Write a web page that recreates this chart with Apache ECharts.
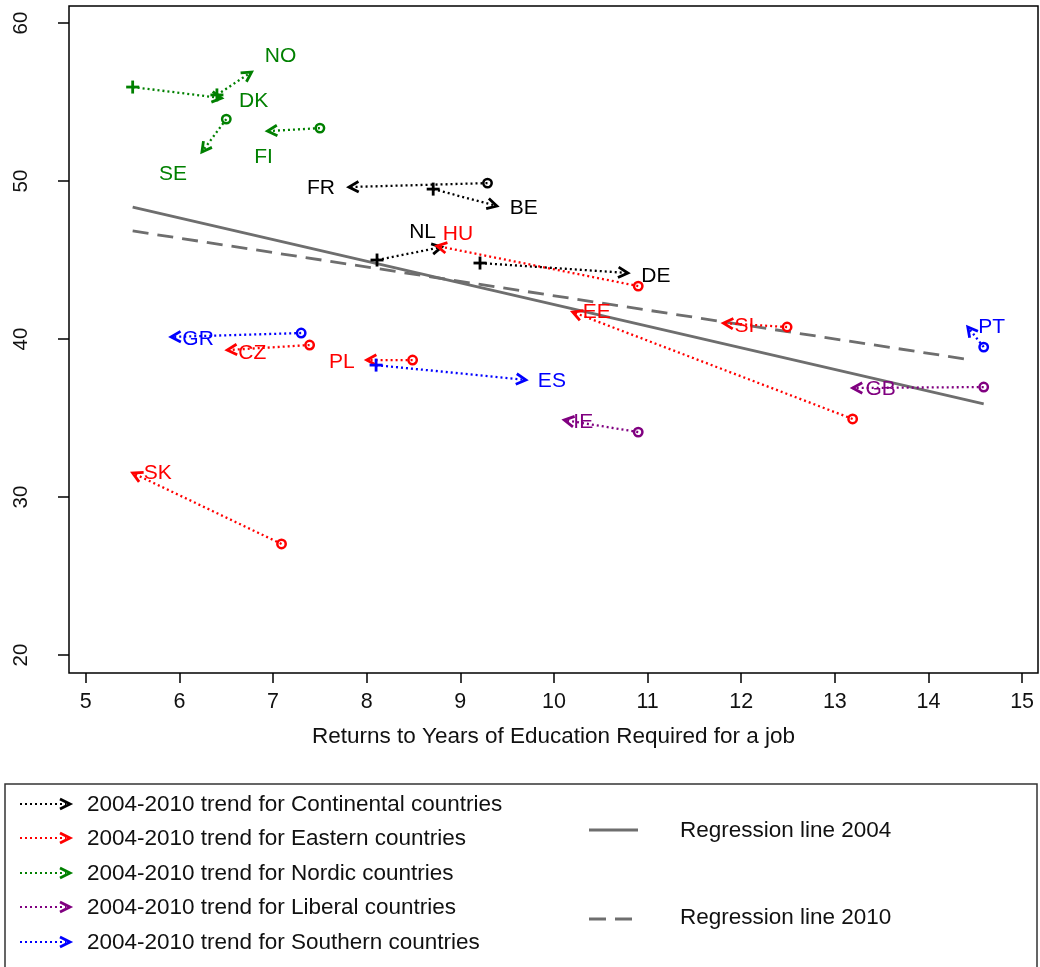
<!DOCTYPE html>
<html>
<head>
<meta charset="utf-8">
<script src="https://cdn.jsdelivr.net/npm/echarts@6/dist/echarts.min.js"></script>
<style>
  html, body { margin: 0; padding: 0; background: #fff; }
  #main { width: 1040px; height: 967px; }
</style>
</head>
<body>
<div id="main"></div>
<script>
// country data: 2004 point -> 2010 point
var countries = ['NO', 'DK', 'SE', 'FI', 'FR', 'BE', 'NL', 'DE', 'HU', 'EE', 'SI', 'CZ', 'PL', 'SK', 'GB', 'IE', 'PT', 'GR', 'ES'];
var groups = ['Nordic', 'Nordic', 'Nordic', 'Nordic', 'Continental', 'Continental', 'Continental', 'Continental',
	'Eastern', 'Eastern', 'Eastern', 'Eastern', 'Eastern', 'Eastern', 'Liberal', 'Liberal', 'Southern', 'Southern', 'Southern'];
var x2004 = [6.40, 5.50, 6.50, 7.50, 9.29, 8.71, 8.11, 9.21, 10.90, 13.19, 12.49, 7.39, 8.49, 7.09, 14.59, 10.90, 14.59, 7.30, 8.10];
var y2004 = [55.45, 55.95, 53.92, 53.35, 49.87, 49.49, 45.00, 44.81, 43.35, 34.94, 40.76, 39.62, 38.67, 27.03, 36.96, 34.11, 39.49, 40.38, 38.35];
var x2010 = [6.77, 6.45, 6.24, 6.94, 7.81, 9.39, 8.80, 10.79, 8.75, 10.20, 11.81, 6.51, 8.00, 5.50, 13.19, 10.11, 14.42, 5.91, 9.70];
var y2010 = [56.90, 55.25, 51.84, 53.16, 49.62, 48.42, 45.82, 44.18, 45.89, 41.71, 41.01, 39.30, 38.67, 31.52, 36.90, 34.87, 40.76, 40.13, 37.41];

// regression lines (end points)
var reg2004X = [5.5, 14.59];
var reg2004Y = [48.35, 35.89];
var reg2010X = [5.5, 14.4];
var reg2010Y = [46.84, 38.73];

var xTicks = [5, 6, 7, 8, 9, 10, 11, 12, 13, 14, 15];
var yTicks = [20, 30, 40, 50, 60];
var groupNames = ['Continental', 'Eastern', 'Nordic', 'Liberal', 'Southern'];

// styles
var FONT = "'Liberation Sans', Arial, sans-serif";
var groupColor = {
	Continental: '#000000',
	Eastern: '#ff0000',
	Nordic: '#008000',
	Liberal: '#800080',
	Southern: '#0000ff'
};
var plusMarked = ['NO', 'DK', 'BE', 'NL', 'DE', 'ES'];
// label centre offset from the arrow tip, pixels
var labelOff = {
	NO: [29, -16], DK: [32, 3], SE: [-29, 22], FI: [-4, 26], FR: [-28, 1], BE: [27, 2],
	NL: [-19, -15], HU: [21, -12], DE: [28, 3], EE: [24, 0], SI: [21, 3], CZ: [25, 3],
	PL: [-25, 2], SK: [25, 0], GB: [28, 1], IE: [19, 2], PT: [24, 0], GR: [27, 2], ES: [26, 1]
};

function arrowItem(params, api) {
	var i = api.value(4);
	var name = countries[i];
	var color = groupColor[groups[i]];
	var p1 = api.coord([api.value(0), api.value(1)]);
	var p2 = api.coord([api.value(2), api.value(3)]);
	var ang = Math.atan2(p2[1] - p1[1], p2[0] - p1[0]);
	var L = 11, a = 0.5;
	var head = [
		[p2[0] - L * Math.cos(ang - a), p2[1] - L * Math.sin(ang - a)],
		[p2[0], p2[1]],
		[p2[0] - L * Math.cos(ang + a), p2[1] - L * Math.sin(ang + a)]
	];
	var children = [
		{ type: 'line', shape: { x1: p1[0], y1: p1[1], x2: p2[0], y2: p2[1] },
			style: { stroke: color, lineWidth: 2.3, lineDash: [2, 3] } },
		{ type: 'polyline', shape: { points: head },
			style: { stroke: color, lineWidth: 2.8, fill: null } }
	];
	if (plusMarked.indexOf(name) >= 0) {
		children.push({ type: 'line', shape: { x1: p1[0] - 6.5, y1: p1[1], x2: p1[0] + 6.5, y2: p1[1] },
			style: { stroke: color, lineWidth: 2.8 } });
		children.push({ type: 'line', shape: { x1: p1[0], y1: p1[1] - 6.5, x2: p1[0], y2: p1[1] + 6.5 },
			style: { stroke: color, lineWidth: 2.8 } });
	} else {
		children.push({ type: 'circle', shape: { cx: p1[0], cy: p1[1], r: 4.2 },
			style: { stroke: color, lineWidth: 2.5, fill: null } });
	}
	var off = labelOff[name];
	children.push({ type: 'text', x: p2[0] + off[0], y: p2[1] + off[1],
		style: { text: name, fill: color, fontSize: 21, fontFamily: FONT, align: 'center', verticalAlign: 'middle' } });
	return { type: 'group', children: children };
}

var series = [];
groupNames.forEach(function (g) {
	var data = [];
	for (var i = 0; i < countries.length; i++) {
		if (groups[i] == g) data.push([x2004[i], y2004[i], x2010[i], y2010[i], i]);
	}
	series.push({
		type: 'custom',
		name: g,
		renderItem: arrowItem,
		encode: { x: [0, 2], y: [1, 3] },
		data: data,
		z: 3
	});
});
series.push({
	type: 'line', name: 'Regression line 2004', symbol: 'none', z: 2,
	data: reg2004X.map(function (x, k) { return [x, reg2004Y[k]]; }),
	lineStyle: { color: '#6e6e6e', width: 2.8 }
});
series.push({
	type: 'line', name: 'Regression line 2010', symbol: 'none', z: 2,
	data: reg2010X.map(function (x, k) { return [x, reg2010Y[k]]; }),
	lineStyle: { color: '#6e6e6e', width: 2.8, type: [16, 9] }
});

// legend drawn as graphics
var legendRows = [804, 838, 873, 907, 942];
var graphics = [{
	type: 'rect', shape: { x: 5, y: 784, width: 1032, height: 200 },
	style: { fill: null, stroke: '#333', lineWidth: 1.5 }
}];
groupNames.forEach(function (g, k) {
	var y = legendRows[k];
	var c = groupColor[g];
	graphics.push({ type: 'line', shape: { x1: 20, y1: y, x2: 66, y2: y },
		style: { stroke: c, lineWidth: 2.2, lineDash: [2, 3] } });
	graphics.push({ type: 'polyline', shape: { points: [[60, y - 5], [70, y], [60, y + 5]] },
		style: { stroke: c, lineWidth: 2.8, fill: null } });
	graphics.push({ type: 'text', x: 87, y: y + 1,
		style: { text: '2004-2010 trend for ' + g + ' countries', fill: '#111', fontSize: 22.5, fontFamily: FONT, verticalAlign: 'middle' } });
});
graphics.push({ type: 'line', shape: { x1: 589, y1: 830, x2: 638, y2: 830 },
	style: { stroke: '#6e6e6e', lineWidth: 2.8 } });
graphics.push({ type: 'text', x: 680, y: 831,
	style: { text: 'Regression line 2004', fill: '#111', fontSize: 22.5, fontFamily: FONT, verticalAlign: 'middle' } });
graphics.push({ type: 'line', shape: { x1: 589, y1: 919, x2: 632, y2: 919 },
	style: { stroke: '#6e6e6e', lineWidth: 2.8, lineDash: [17, 9] } });
graphics.push({ type: 'text', x: 680, y: 918,
	style: { text: 'Regression line 2010', fill: '#111', fontSize: 22.5, fontFamily: FONT, verticalAlign: 'middle' } });

var option = {
	animation: false,
	backgroundColor: '#fff',
	grid: {
		left: 69, right: 2, top: 6, bottom: 294,
		show: true, borderColor: '#000', borderWidth: 1.5, backgroundColor: 'transparent'
	},
	xAxis: {
		type: 'value',
		min: 4.82, max: 15.17,
		name: 'Returns to Years of Education Required for a job',
		nameLocation: 'middle',
		nameGap: 52,
		nameTextStyle: { fontSize: 22.5, fontFamily: FONT, color: '#111' },
		axisLine: { show: false },
		axisTick: { show: true, length: 10, customValues: xTicks, lineStyle: { color: '#000', width: 1.5 } },
		axisLabel: { customValues: xTicks, fontSize: 21.5, fontFamily: FONT, color: '#111', margin: 18 },
		splitLine: { show: false }
	},
	yAxis: {
		type: 'value',
		min: 18.86, max: 61.08,
		axisLine: { show: false },
		axisTick: { show: true, length: 11, customValues: yTicks, lineStyle: { color: '#000', width: 1.5 } },
		axisLabel: { customValues: yTicks, rotate: 90, fontSize: 20.5, fontFamily: FONT, color: '#111', margin: 37 },
		splitLine: { show: false }
	},
	graphic: graphics,
	series: series
};

var myChart = echarts.init(document.getElementById('main'));
myChart.setOption(option);
</script>
</body>
</html>
